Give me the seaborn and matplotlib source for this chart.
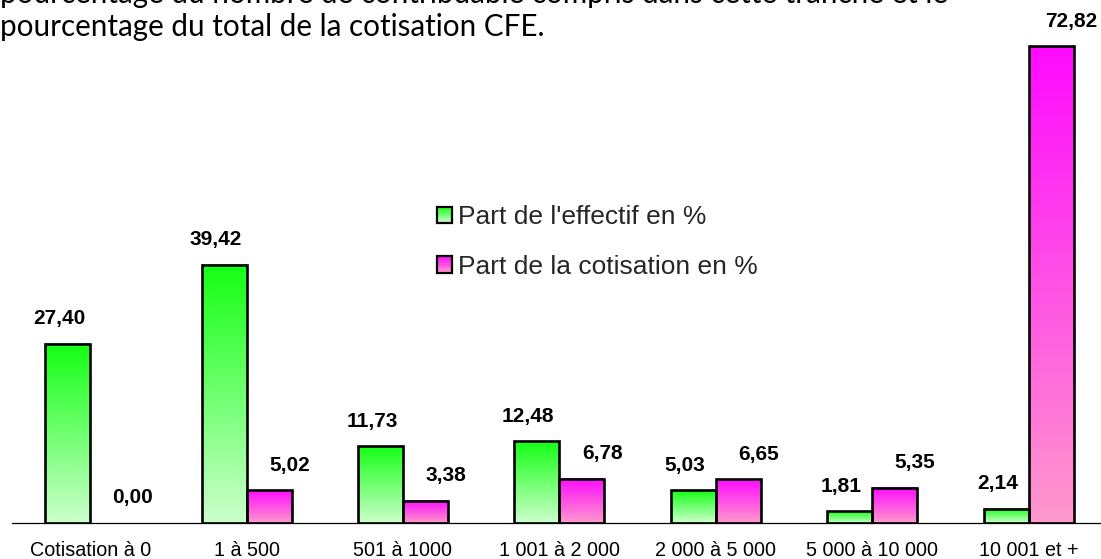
import numpy as np
import pandas as pd
import matplotlib
matplotlib.use("Agg")
import matplotlib.pyplot as plt
from matplotlib.colors import to_rgb
from matplotlib.patches import Patch, Rectangle
from matplotlib.legend_handler import HandlerBase
from matplotlib.ticker import FixedLocator
import seaborn as sns

# ---- data -------------------------------------------------------------
tranches = ["Cotisation à 0", "1 à 500", "501 à 1000", "1 001 à 2 000",
            "2 000 à 5 000", "5 000 à 10 000", "10 001 et +"]
part_effectif = [27.40, 39.42, 11.73, 12.48, 5.03, 1.81, 2.14]
part_cotisation = [0.00, 5.02, 3.38, 6.78, 6.65, 5.35, 72.82]
series = ["Part de l'effectif en %", "Part de la cotisation en %"]
intro_lines = [
    "pourcentage du nombre de contribuable compris dans cette tranche et le",
    "pourcentage du total de la cotisation CFE.",
]

# ---- style ------------------------------------------------------------
sns.set_theme(style="white")
plt.rcParams["font.family"] = ["Liberation Sans", "DejaVu Sans"]

W, H = 1101, 559
DPI = 100
PX = 72.0 / DPI  # points per pixel

gradients = {
    series[0]: ("#14ff14", "#ccffcc"),   # top, bottom
    series[1]: ("#ff0aff", "#ff99cc"),
}

df = pd.DataFrame({
    "tranche": tranches * 2,
    "serie": [series[0]] * len(tranches) + [series[1]] * len(tranches),
    "valeur": part_effectif + part_cotisation,
})

fig = plt.figure(figsize=(W / DPI, H / DPI), dpi=DPI)
px_per_cat = 156.4
px_per_unit = 6.55
ax_left, ax_bottom, ax_h = 12, 36, 523
ax = fig.add_axes([ax_left / W, ax_bottom / H, 7 * px_per_cat / W, ax_h / H])
ax.patch.set_alpha(0)

sns.barplot(data=df, x="tranche", y="valeur", hue="serie", order=tranches,
            hue_order=series, width=0.575, dodge=True,
            palette={s: gradients[s][0] for s in series},
            edgecolor="black", linewidth=1.9, legend=False, ax=ax,
            zorder=3)


def vertical_gradient(top, bottom, n=256):
    t = np.linspace(0, 1, n)[:, None]
    c0, c1 = np.array(to_rgb(top)), np.array(to_rgb(bottom))
    return (c0 * (1 - t) + c1 * t).reshape(n, 1, 3)


# fill each bar with a top-to-bottom colour gradient and label it
label_dx = {series[0]: -8.6 * PX, series[1]: 20.3 * PX}
for serie, container, values in zip(series, ax.containers,
                                    [part_effectif, part_cotisation]):
    grad = vertical_gradient(*gradients[serie])
    for bar, val in zip(container.patches, values):
        x, w, h = bar.get_x(), bar.get_width(), bar.get_height()
        bar.set_facecolor("none")
        if h <= 0:
            bar.set_linewidth(0)
        else:
            ax.imshow(grad, extent=(x, x + w, 0, h), aspect="auto",
                      interpolation="bilinear", zorder=2)
        ax.annotate(f"{val:.2f}".replace(".", ","),
                    xy=(x + w / 2, h), xytext=(label_dx[serie], 19.5 * PX),
                    textcoords="offset points", ha="center", va="baseline",
                    fontsize=15, fontweight="bold", color="black",
                    annotation_clip=False, zorder=4)

ax.set_xlim(-0.5, 6.5)
ax.set_ylim(0, ax_h / px_per_unit)

# axes: only the baseline, with ticks between categories
for side in ("left", "right", "top"):
    ax.spines[side].set_visible(False)
ax.spines["bottom"].set_color("black")
ax.spines["bottom"].set_linewidth(0.9)
ax.spines["bottom"].set_zorder(5)
ax.set_yticks([])
ax.set_xlabel("")
ax.set_ylabel("")
ax.set_xticks(range(len(tranches)))
ax.set_xticklabels(tranches)
ax.xaxis.set_minor_locator(FixedLocator(np.arange(-0.5, 7.0, 1.0)))
ax.tick_params(axis="x", which="major", length=0, pad=12.8,
               labelsize=14.2, labelcolor="black")
ax.tick_params(axis="x", which="minor", length=6 * PX, width=1.0,
               color="#8a8a8a", direction="out")


# legend with gradient squares
class GradientSquare(HandlerBase):
    def __init__(self, top, bottom):
        super().__init__()
        self.top, self.bottom = top, bottom

    def create_artists(self, legend, orig_handle, xdescent, ydescent,
                       width, height, fontsize, trans):
        n = 10
        c0, c1 = np.array(to_rgb(self.top)), np.array(to_rgb(self.bottom))
        arts = []
        for i in range(n):
            t = (i + 0.5) / n  # 0 at the bottom strip
            col = c1 * (1 - t) + c0 * t
            arts.append(Rectangle((-xdescent, -ydescent + height * i / n),
                                  width, height / n, facecolor=col,
                                  edgecolor="none", transform=trans))
        arts.append(Rectangle((-xdescent, -ydescent), width, height,
                              fill=False, edgecolor="black", linewidth=1.6,
                              transform=trans))
        return arts


handles = [Patch(label=s) for s in series]
handler_map = {h: GradientSquare(*gradients[s]) for h, s in zip(handles, series)}
fig.legend(handles=handles, labels=series, handler_map=handler_map,
           loc="upper left", bbox_to_anchor=(437 / W, 1 - 205 / H),
           bbox_transform=fig.transFigure, frameon=False, fontsize=19,
           borderpad=0, borderaxespad=0, handlelength=0.56,
           handleheight=0.56, handletextpad=0.22, labelspacing=0.98)

# introductory text above the chart (first line runs off the top)
for baseline_px, line in zip([3, 36], intro_lines):
    fig.text(0, 1 - baseline_px / H, line, fontsize=21.3,
             family=["Lato", "DejaVu Sans"], color="black",
             ha="left", va="baseline")

fig.savefig("out.png", dpi=DPI)
